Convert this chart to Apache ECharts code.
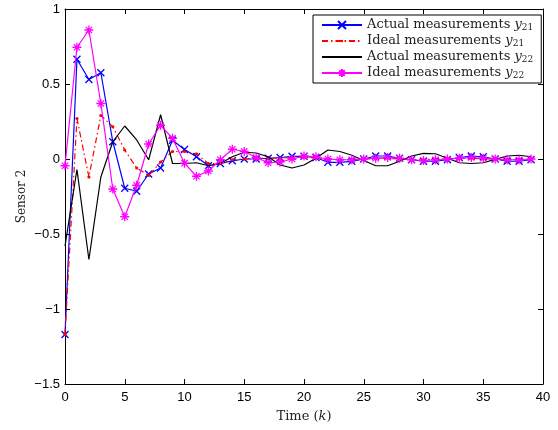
<!DOCTYPE html>
<html><head><meta charset="utf-8">
<script src="https://cdn.jsdelivr.net/npm/echarts@6/dist/echarts.min.js"></script>
<style>html,body{margin:0;padding:0;background:#fff}#c{width:558px;height:430px}</style>
</head><body><div id="c"></div>
<script>
const timeSteps = Array.from({length: 40}, (_, k) => k);
const xTicks = [0, 5, 10, 15, 20, 25, 30, 35, 40];
const yTicks = [-1.5, -1, -0.5, 0, 0.5, 1];
const actualY21 = [-1.17, 0.665, 0.53, 0.575, 0.115, -0.195, -0.215, -0.10, -0.06, 0.125,
  0.063, 0.015, -0.045, -0.03, -0.012, 0.0, 0.0, 0.005, 0.01, 0.018,
  0.018, 0.01, -0.022, -0.022, -0.016, 0.0, 0.02, 0.02, 0.005, -0.005,
  -0.015, -0.015, -0.005, 0.01, 0.02, 0.015, 0.0, -0.015, -0.015, -0.005];
const idealY21 = [-1.17, 0.27, -0.12, 0.29, 0.215, 0.06, -0.06, -0.11, -0.02, 0.05,
  0.05, 0.035, -0.03, -0.03, -0.005, 0.0, 0.005, 0.005, 0.005, 0.01,
  0.01, 0.005, 0.0, -0.005, -0.005, 0.0, 0.005, 0.005, 0.0, -0.005,
  -0.005, 0.0, 0.0, 0.005, 0.005, 0.0, 0.0, -0.005, -0.005, 0.0];
const actualY22 = [-0.58, -0.07, -0.67, -0.12, 0.115, 0.22, 0.127, -0.005, 0.295, -0.03,
  -0.03, -0.025, -0.045, -0.03, 0.015, 0.045, 0.04, 0.015, -0.04, -0.06,
  -0.04, 0.005, 0.06, 0.05, 0.025, -0.01, -0.045, -0.045, -0.015, 0.02,
  0.038, 0.035, 0.005, -0.025, -0.03, -0.025, -0.002, 0.02, 0.025, 0.015];
const idealY22 = [-0.045, 0.745, 0.86, 0.37, -0.2, -0.385, -0.175, 0.1, 0.225, 0.138,
  -0.028, -0.115, -0.08, -0.005, 0.065, 0.05, 0.01, -0.025, -0.02, 0.0,
  0.02, 0.015, 0.0, -0.005, -0.005, 0.0, 0.005, 0.01, 0.005, -0.005,
  -0.01, -0.005, 0.0, 0.005, 0.01, 0.005, 0.0, -0.005, -0.005, 0.0];
const seriesNames = ['Actual measurements y21', 'Ideal measurements y21', 'Actual measurements y22', 'Ideal measurements y22'];
const legendLabels = {
  'Actual measurements y21': 'Actual measurements {i|y}{s|21}',
  'Ideal measurements y21': 'Ideal measurements {i|y}{s|21}',
  'Actual measurements y22': 'Actual measurements {i|y}{s|22}',
  'Ideal measurements y22': 'Ideal measurements {i|y}{s|22}'
};

const pairs = arr => arr.map((v, i) => [timeSteps[i], v]);
const SERIF = '"DejaVu Serif", serif';
const SANS = '"Liberation Sans", Arial, sans-serif';
const fmtNum = v => (v < 0 ? '\u2212' + Math.abs(v) : String(v));
const crossPath = 'path://M0,0L10,10M10,0L0,10';
const starPath = 'path://M5,0L5,10M0,5L10,5M1.5,1.5L8.5,8.5M8.5,1.5L1.5,8.5';
const dotPath = 'path://M0,0M10,10M3.4,5a1.6,1.6 0 1,0 3.2,0a1.6,1.6 0 1,0 -3.2,0Z';

const axisCommon = {
  axisLine: {show: true, onZero: false, lineStyle: {color: '#000', width: 1}},
  axisTick: {show: true, inside: true, length: 5, lineStyle: {color: '#000'}},
  splitLine: {show: false}
};

const chart = echarts.init(document.getElementById('c'), null, {renderer: 'canvas'});
chart.setOption({
  animation: false,
  backgroundColor: '#fff',
  grid: {left: 65, right: 15, top: 9, bottom: 46},
  xAxis: [
    Object.assign({type: 'value', min: 0, max: 40, interval: 5, position: 'bottom',
      name: 'Time ({i|k})', nameLocation: 'middle', nameGap: 26,
      nameTextStyle: {fontFamily: SERIF, fontSize: 13, color: '#222',
        rich: {i: {fontFamily: SERIF, fontStyle: 'italic', fontSize: 13, color: '#222'}}},
      axisLabel: {fontFamily: SANS, fontSize: 13, color: '#000', margin: 7, formatter: fmtNum}}, axisCommon),
    Object.assign({type: 'value', min: 0, max: 40, interval: 5, position: 'top',
      axisLabel: {show: false}}, axisCommon)
  ],
  yAxis: [
    Object.assign({type: 'value', min: -1.5, max: 1, interval: 0.5, position: 'left',
      name: 'Sensor 2', nameLocation: 'middle', nameGap: 37, nameRotate: 90, nameMoveOverlap: false,
      nameTextStyle: {fontFamily: SERIF, fontSize: 12, color: '#222'},
      axisLabel: {fontFamily: SANS, fontSize: 13, color: '#000', margin: 5, formatter: fmtNum}}, axisCommon),
    Object.assign({type: 'value', min: -1.5, max: 1, interval: 0.5, position: 'right',
      axisLabel: {show: false}}, axisCommon)
  ],
  legend: {
    orient: 'vertical', left: 313, top: 15, right: null,
    backgroundColor: '#fff', borderColor: '#000', borderWidth: 1,
    padding: [3, 8, 3, 8], itemGap: 2, itemWidth: 40, itemHeight: 10,
    data: [
      {name: seriesNames[0]},
      {name: seriesNames[1]},
      {name: seriesNames[2], itemStyle: {color: 'rgba(0,0,0,0)', borderColor: 'rgba(0,0,0,0)', borderWidth: 0}},
      {name: seriesNames[3]}
    ],
    formatter: n => legendLabels[n],
    textStyle: {fontFamily: SERIF, fontSize: 13, color: '#222', lineHeight: 14,
      rich: {
        i: {fontFamily: SERIF, fontStyle: 'italic', fontSize: 13, color: '#222', lineHeight: 14},
        s: {fontFamily: SERIF, fontSize: 9, color: '#222', lineHeight: 14, verticalAlign: 'bottom', padding: [5, 0, 0, 0]}
      }}
  },
  series: [
    {name: seriesNames[0], type: 'line', data: pairs(actualY21), symbol: crossPath, symbolSize: 7,
      lineStyle: {color: '#0000ff', width: 1.2}, itemStyle: {color: '#0000ff', borderColor: '#0000ff', borderWidth: 1.3},
      z: 2},
    {name: seriesNames[1], type: 'line', data: pairs(idealY21), symbol: dotPath, symbolSize: 10,
      lineStyle: {color: '#ff0000', width: 1.2, type: [6, 3, 1.5, 3]}, itemStyle: {color: '#ff0000', borderWidth: 0},
      z: 3},
    {name: seriesNames[2], type: 'line', data: pairs(actualY22), symbol: 'none', showSymbol: false,
      lineStyle: {color: '#000000', width: 1.2}, itemStyle: {color: '#000000'},
      z: 4},
    {name: seriesNames[3], type: 'line', data: pairs(idealY22), symbol: starPath, symbolSize: 9,
      lineStyle: {color: '#ff00ff', width: 1.2}, itemStyle: {color: '#ff00ff', borderColor: '#ff00ff', borderWidth: 1.3},
      z: 5}
  ]
});
</script></body></html>
